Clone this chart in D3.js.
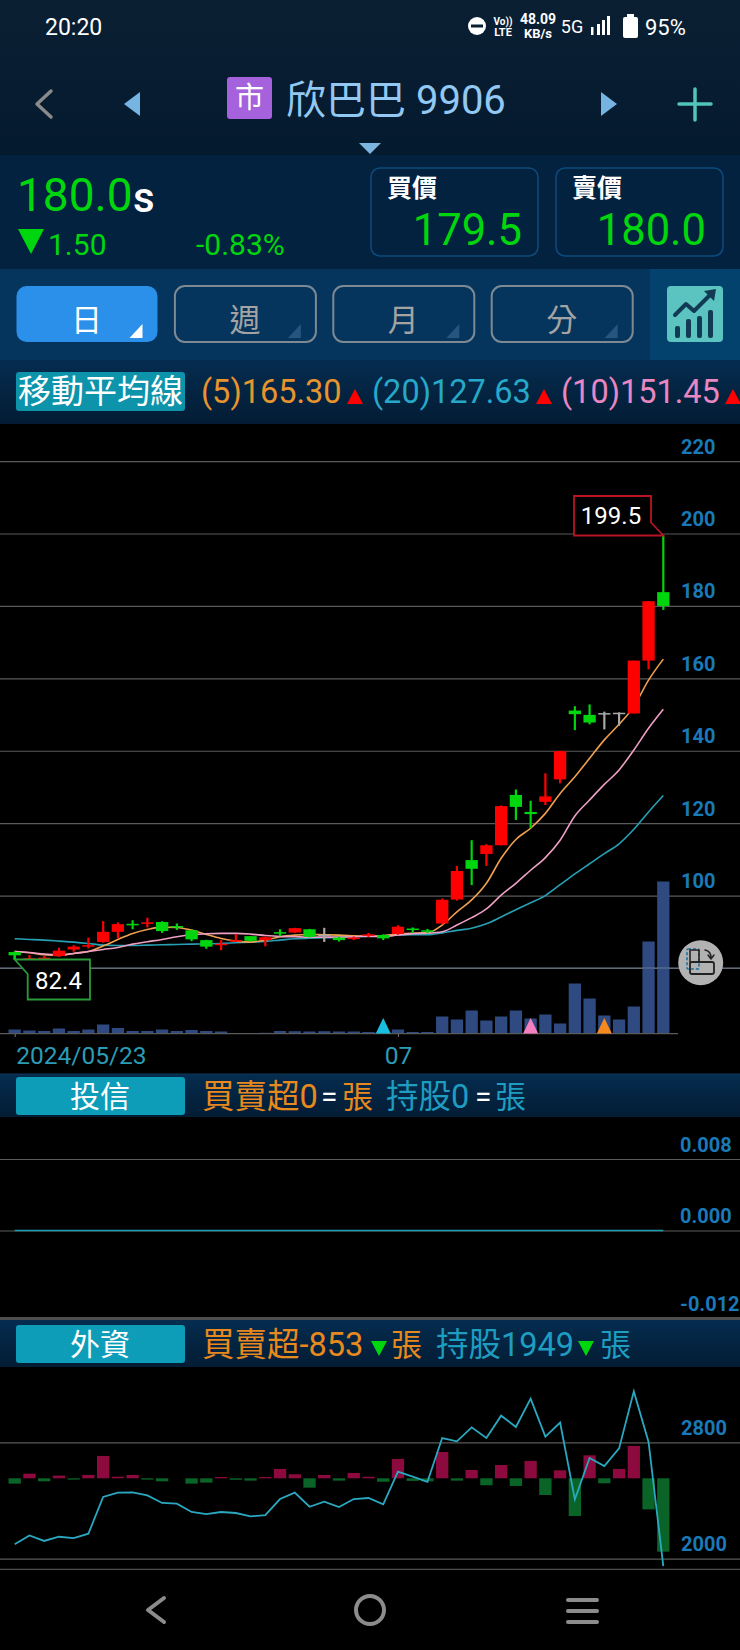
<!DOCTYPE html>
<html>
<head>
  <meta charset="UTF-8">
  <style>
    html, body { margin: 0; padding: 0; background: black; }
    svg { display: block; font-family: Roboto, "Noto Sans CJK TC", sans-serif; }
    .axis path { display: none; }
    .grid line { stroke: #5a5a5a; stroke-width: 1.2; }
    .grid text { display: none; }
    .yLabel line { display: none; }
    .yLabel text { fill: #1a79b8; font-size: 20px; font-weight: 700; font-family: Roboto, sans-serif; }
  </style>
</head>
<body>
<svg></svg>
<script src="https://d3js.org/d3.v7.min.js"></script>
<script>

// candles, oldest first
let opens  = [84.4,82.5,82.4,83.3,85.1,85.9,87.2,90.0,92.2,92.2,92.7,91.6,90.4,87.7,86.5,87.4,88.8,87.7,89.9,89.8,90.7,89.2,88.4,88.1,88.9,89.1,89.4,90.9,90.4,92.3,98.9,109.8,111.5,113.9,127.8,123.1,125.9,132.1,151.1,149.9,150.4,150.5,150.3,164.9,183.8];
let highs  = [84.6,83.6,83.3,85.6,86.3,88.4,92.95,92.6,93.2,93.9,92.9,92.3,90.6,87.8,87.7,89.4,88.8,88.7,90.7,91.1,90.8,91.1,88.6,88.7,89.7,89.3,91.8,91.2,90.8,99.2,108.2,115.3,114.2,124.9,129.3,126.2,133.75,140.0,152.3,152.8,150.8,150.6,164.9,181.3,199.5];
let lows   = [82.4,82.4,82.2,83.1,84.5,85.4,87.0,88.2,90.7,91.2,89.7,90.5,87.4,85.3,84.9,87.2,87.3,86.0,88.8,89.7,88.4,87.2,87.3,87.7,88.6,87.7,89.2,89.7,89.6,92.0,98.6,102.9,108.2,113.9,120.9,118.6,125.0,131.0,145.7,147.3,145.9,146.9,150.3,162.5,178.9];
let closes = [83.5,82.7,82.85,84.8,85.9,86.3,90.0,92.1,91.85,92.6,90.2,91.2,87.9,85.9,86.7,87.7,87.5,88.5,89.5,91.0,88.6,89.2,87.7,88.4,89.3,88.2,91.4,90.6,90.1,98.85,106.8,107.4,113.9,124.7,124.5,122.5,127.4,139.9,150.1,147.8,150.4,150.5,164.9,181.3,180.0];

// moving averages
let ma5  = [84.57,84.2,83.65,83.47,84.02,84.57,86.05,87.89,89.55,90.65,91.3,91.2,90.47,89.27,88.17,87.43,87.15,87.7,88.63,89.09,89.27,89.18,89.09,88.9,88.72,88.9,89.4,89.6,89.7,91.85,95.5,98.8,103.4,110.3,115.5,118.6,122.7,128.2,132.8,137.9,143.0,147.3,152.2,159.5,165.3];
let ma10 = [84.57,84.3,83.84,83.65,84.02,84.57,85.13,85.68,86.6,87.25,87.89,88.63,89.18,89.46,89.55,89.55,89.36,88.99,88.72,88.63,88.53,88.53,88.53,88.63,88.81,88.6,89.1,89.5,89.6,90.0,91.85,93.9,96.3,100.1,103.4,107.0,110.5,115.3,122.0,126.4,130.7,134.7,140.2,146.2,151.45];
let ma20 = [88.07,87.89,87.7,87.43,87.15,86.78,86.32,86.23,86.23,86.32,86.42,86.51,86.6,86.69,86.78,86.97,87.15,87.34,87.7,88.07,88.26,88.35,88.44,88.63,88.81,88.9,89.1,89.2,89.2,89.7,90.4,91.0,92.2,94.1,96.1,98.0,100.0,103.0,106.0,108.8,111.6,114.3,118.3,123.1,127.63];

// volume, 張 (estimated)
let volumes = [80,60,50,100,50,80,180,110,50,50,80,50,70,50,40,10,6,14,50,46,40,46,40,40,30,16,80,30,30,340,280,460,260,340,460,300,380,200,1000,700,360,280,540,1840,3040];

let priceTicks = [220,200,180,160,140,120,100,80];

// 投信 panel
let trustTicks = [0.008,0.000,-0.012];
let trustHold = [0,0,0,0,0,0,0,0,0,0,0,0,0,0,0,0,0,0,0,0,0,0,0,0,0,0,0,0,0,0,0,0,0,0,0,0,0,0,0,0,0,0,0,0,0];

// 外資 panel
let foreignTicks = [2800,2000];
let foreignNet = [-62,54,-35,31,-15,39,260,19,39,-15,-35,0,-62,-50,15,-17,-27,15,109,47,-109,39,-27,62,18,-40,225,-30,-35,306,-27,97,-81,155,-89,202,-194,93,-438,267,-58,109,376,-361,-853];
let foreignHold = [2099,2160,2122,2151,2142,2172,2424,2454,2456,2435,2383,2378,2321,2307,2321,2314,2291,2300,2410,2454,2357,2392,2355,2410,2417,2374,2598,2564,2529,2829,2807,2903,2829,2983,2905,3100,2839,2935,2408,2692,2637,2758,3150,2802,1949];

let dateTicks = [0,26];
let dateLabels = ["2024/05/23","07"];
let signals = [[25,"#19bfe0"],[35,"#f57fc0"],[40,"#f78a1e"]];
let tabs = ["日","週","月","分"];

let width = 740, height = 1650;
let red = "#ff0000", green = "#00d60e", gray = "#a8a8a8";

let svg = d3.select("svg").attr("width", width).attr("height", height);

let indexes = d3.range(closes.length);
let x = d3.scaleLinear().domain([0, 44]).range([14.7, 663.3]);
let barW = 12.3;

// little helpers for the app chrome
function label(str, px, py, size, fill, anchor, weight) {
  return svg.append("text").attr("x", px).attr("y", py).attr("dy", "0.35em")
    .attr("font-size", size).attr("fill", fill)
    .attr("text-anchor", anchor || "start").attr("font-weight", weight || 400).text(str);
}
function box(px, py, w, h, fill, r, stroke) {
  return svg.append("rect").attr("x", px).attr("y", py).attr("width", w).attr("height", h)
    .attr("fill", fill).attr("rx", r || 0).attr("stroke", stroke || "none");
}
function poly(pts, fill) {
  return svg.append("polygon").attr("points", pts.join(" ")).attr("fill", fill);
}
function stroke(d, color, w) {
  return svg.append("path").attr("d", d).attr("fill", "none").attr("stroke", color)
    .attr("stroke-width", w).attr("stroke-linecap", "round").attr("stroke-linejoin", "round");
}

// backgrounds
let defs = svg.append("defs");
let grad = defs.append("linearGradient").attr("id", "topBg").attr("x1", 0).attr("y1", 0).attr("x2", 0).attr("y2", 1);
grad.append("stop").attr("offset", "0%").attr("stop-color", "#0b1f33");
grad.append("stop").attr("offset", "100%").attr("stop-color", "#041a2e");
let maGrad = defs.append("linearGradient").attr("id", "rowBg").attr("x1", 0).attr("y1", 0).attr("x2", 0).attr("y2", 1);
maGrad.append("stop").attr("offset", "0%").attr("stop-color", "#052c4f");
maGrad.append("stop").attr("offset", "100%").attr("stop-color", "#031c34");

box(0, 0, width, height, "black");
box(0, 0, width, 156, "url(#topBg)");
box(0, 155, width, 114, "#03223f");
box(0, 269, width, 91, "#05345c");
box(0, 360, width, 64, "url(#rowBg)");
box(650, 269, 90, 91, "#04426e");

// status bar
label("20:20", 45, 27, 23, "white");
svg.append("circle").attr("cx", 477).attr("cy", 26).attr("r", 9).attr("fill", "white");
box(471, 24.5, 12, 3, "#0b1f33");
label("Vo))", 503, 21, 10, "white", "middle", 700);
label("LTE", 503, 32, 11, "white", "middle", 700);
label("48.09", 538, 19, 14, "white", "middle", 700);
label("KB/s", 538, 33, 13, "white", "middle", 700);
label("5G", 572, 27, 18, "white", "middle");
box(591, 27, 2.5, 8, "white");
box(597, 24, 3, 11, "white");
box(602, 20, 3, 15, "white");
box(607, 16, 3, 19, "white");
box(623, 17, 15, 21, "white", 2);
box(627, 14, 7, 4, "white");
label("95%", 645, 27, 22, "white");

// title row
stroke("M51 91 L37 104 L51 117", "#8a8a8a", 3.5);
poly([[140,92],[124,104],[140,116]], "#76b4e2");
box(227, 77, 45, 42, "#a562dc", 3);
label("市", 249.5, 98, 29, "white", "middle");
label("欣巴巴 9906", 286, 100, 40, "#92c8f2");
poly([[601,92],[617,104],[601,116]], "#76b4e2");
stroke("M695 89 V120 M679 104 H711", "#52c4b8", 3.5);
poly([[359,143],[381,143],[370,154]], "#7cb6e0");

// quote
label("180.0", 17, 195, 46, green);
label("s", 133, 197, 42, "white", "start", 500);
poly([[18,229],[44,229],[31,254]], green);
label("1.50", 48, 244, 30, green);
label("-0.83%", 196, 244, 30, green);
box(371, 168, 167, 88, "none", 9, "#0d4b7c").attr("stroke-width", 1.5);
box(556, 168, 167, 88, "none", 9, "#0d4b7c").attr("stroke-width", 1.5);
label("買價", 387, 188, 25, "white", "start", 700);
label("賣價", 572, 188, 25, "white", "start", 700);
label("179.5", 522, 230, 43.5, green, "end");
label("180.0", 706, 230, 43.5, green, "end");

// period tabs
tabs.forEach((t, i) => {
  let left = 16.5 + i * 158.4;
  box(left, 286, 141, 56, i == 0 ? "#2a90ea" : "none", 10, i == 0 ? "none" : "#7d8a94").attr("stroke-width", 2);
  label(t, left + 70, 320, 31, i == 0 ? "white" : "#a3a3a3", "middle");
  let c = i == 0 ? "white" : "#26557f";
  poly([[left + 126, 324],[left + 126, 338],[left + 113, 338]], c);
});
box(667, 286, 56, 56, "#5bc3c0", 4);
stroke("M675 315 L686 304 L694 311 L712 293", "#123a55", 4);
poly([[704,291],[716,289],[714,301]], "#123a55");
[[677,12],[688,19],[699,22],[710,28]].forEach(d => box(d[0] - 2, 337 - d[1] + 1, 5, d[1], "#123a55", 2));

// MA legend row
box(16, 372, 169, 39, "#0d93aa", 3);
label("移動平均線", 100.5, 391, 33, "white", "middle");
label("(5)165.30", 201, 392, 32.5, "#e8942e");
poly([[347,404],[363,404],[355,389]], red);
label("(20)127.63", 372, 392, 32.5, "#27a8c8");
poly([[536,404],[552,404],[544,389]], red);
label("(10)151.45", 561, 392, 32.5, "#e887c2");
poly([[725,404],[741,404],[733,389]], red);

// price panel
let y = d3.scaleLinear().domain([80, 200]).range([968, 533.5]);

svg.append("g").attr("class", "axis grid")
  .call(d3.axisRight(y).tickValues(priceTicks).tickSize(width).tickFormat(""));

let vol = d3.scaleLinear().domain([0, 3040]).range([1033.5, 881.5]);
svg.append("g").selectAll("rect").data(indexes).enter().append("rect")
  .attr("x", i => x(i) - barW / 2)
  .attr("width", barW)
  .attr("y", i => vol(volumes[i]))
  .attr("height", i => vol(0) - vol(volumes[i]))
  .attr("fill", "#2e4a80");

// grid on top of the volume bars, only faint
svg.append("line").attr("x1", 0).attr("x2", width).attr("y1", y(80)).attr("y2", y(80))
  .attr("stroke", "#6c7890").attr("stroke-width", 1.2);

svg.append("g").attr("class", "axis yLabel")
  .attr("transform", "translate(681,0)")
  .call(d3.axisRight(y).tickValues(priceTicks.filter(d => d > 80)).tickSize(0).tickPadding(0))
  .selectAll("text").attr("dy", "-0.4em");

// baseline and dates
svg.append("line").attr("x1", 0).attr("x2", 678).attr("y1", 1033.7).attr("y2", 1033.7)
  .attr("stroke", "#5a5a5a").attr("stroke-width", 1.2);

let dateAxis = svg.append("g").attr("class", "axis").attr("transform", "translate(0,1034)")
  .call(d3.axisBottom(x).tickValues(dateTicks).tickSize(3).tickPadding(10)
    .tickFormat((d, i) => dateLabels[i]));
dateAxis.selectAll("line").attr("stroke", "#777");
dateAxis.selectAll("text")
  .attr("fill", "#2b9cb6").attr("font-size", 24.5)
  .attr("font-family", "Roboto, sans-serif")
  .attr("text-anchor", (d, i) => i == 0 ? "start" : "middle")
  .attr("x", (d, i) => i == 0 ? 1 : 0);

// moving average lines go under the candles of the same colour range
let maLine = d3.line().x((d, i) => x(i)).y(d => y(d)).curve(d3.curveMonotoneX);
[[ma20, "#27a0b4"], [ma5, "#f0a050"], [ma10, "#eda0c4"]].forEach(m => {
  svg.append("path").attr("d", maLine(m[0])).attr("fill", "none")
    .attr("stroke", m[1]).attr("stroke-width", 1.6);
});

let candleColor = i => closes[i] > opens[i] ? red : closes[i] < opens[i] ? green : gray;

let candle = svg.append("g").selectAll("g").data(indexes).enter().append("g");
candle.append("line")
  .attr("x1", i => x(i)).attr("x2", i => x(i))
  .attr("y1", i => y(highs[i])).attr("y2", i => y(lows[i]))
  .attr("stroke", i => (i == 21 || i == 40 || i == 41) ? gray : candleColor(i))
  .attr("stroke-width", 2.2);
candle.append("rect")
  .attr("x", i => x(i) - barW / 2)
  .attr("width", barW)
  .attr("y", i => y(Math.max(opens[i], closes[i])))
  .attr("height", i => Math.max(1.5, Math.abs(y(opens[i]) - y(closes[i]))))
  .attr("fill", i => (i == 21 || i == 40 || i == 41) ? gray : candleColor(i));

// signal triangles on the volume base
signals.forEach(s => {
  let px = x(s[0]);
  poly([[px - 7.5, 1033.5],[px + 7.5, 1033.5],[px, 1018]], s[1]);
});

// high and low callouts
svg.append("polygon")
  .attr("points", [[574,496],[651,496],[651,522.5],[x(44),535.5],[574,535.5]].join(" "))
  .attr("fill", "black").attr("stroke", "#b81422").attr("stroke-width", 1.8);
label("199.5", 611, 516, 24, "white", "middle");
svg.append("polygon")
  .attr("points", [[x(0),959.5],[90,959.5],[90,999.5],[27.7,999.5],[27.7,974]].join(" "))
  .attr("fill", "black").attr("stroke", "#2a9c3a").attr("stroke-width", 1.8);
// redraw the low candle's wick over the callout edge
svg.append("line").attr("x1", x(0)).attr("x2", x(0)).attr("y1", y(83.5)).attr("y2", y(lows[0]))
  .attr("stroke", green).attr("stroke-width", 2.2);
label("82.4", 58.5, 981, 24, "white", "middle");

// floating rotate button
svg.append("circle").attr("cx", 700.7).attr("cy", 962.7).attr("r", 22.5).attr("fill", "#b2b2b2");
box(687, 949, 12, 20, "none", 1, "#1c6f9c").attr("stroke-dasharray", "3 2").attr("stroke-width", 1.6);
box(690, 962, 24, 12, "none", 2, "#222").attr("stroke-width", 1.8);
stroke("M690 962 V950 H699 V962", "#222", 1.6);
stroke("M705 950 Q711 951 711 958 M708 955 L711 959 L714 955", "#222", 1.5);

// 投信 row
box(0, 1074, width, 43, "url(#rowBg)");
svg.append("line").attr("x1", 0).attr("x2", width).attr("y1", 1074).attr("y2", 1074).attr("stroke", "#0d3a5c");
box(16, 1077, 169, 38, "#0d9db8", 3);
label("投信", 100, 1096, 30, "white", "middle");
label("買賣超0", 202, 1097, 32.5, "#e8891e");
label("=", 321, 1096, 30, "white");
label("張", 342, 1097, 31, "#e8891e");
label("持股0", 386, 1097, 32.5, "#1e9dc0");
label("=", 475, 1096, 30, "white");
label("張", 495, 1097, 31, "#1e9dc0");

// 投信 panel: nothing held, flat line on zero
let yTrust = d3.scaleLinear().domain([0, 0.008]).range([1230.5, 1159]);
svg.append("g").attr("class", "axis grid")
  .call(d3.axisRight(yTrust).tickValues(trustTicks.slice(0, 2)).tickSize(width).tickFormat(""));
svg.append("path")
  .attr("d", d3.line().x((d, i) => x(i)).y(d => yTrust(d))(trustHold))
  .attr("fill", "none").attr("stroke", "#1f9cb0").attr("stroke-width", 1.6);
svg.append("g").attr("class", "axis yLabel")
  .attr("transform", "translate(680,0)")
  .call(d3.axisRight(d3.scaleOrdinal().domain(trustTicks).range([1159, 1230.5, 1318]))
    .tickValues(trustTicks).tickSize(0).tickPadding(0).tickFormat(d => d.toFixed(3)))
  .selectAll("text").attr("dy", "-0.4em").attr("font-size", 19);
box(0, 1317, width, 3, "#4e4e4e");

// 外資 row
box(0, 1320, width, 47, "url(#rowBg)");
box(16, 1325, 169, 38, "#0d9db8", 3);
label("外資", 100, 1344, 30, "white", "middle");
label("買賣超-853", 202, 1345, 32.5, "#e8891e");
poly([[371,1341],[387,1341],[379,1356]], green);
label("張", 391, 1345, 31, "#e8891e");
label("持股1949", 436, 1345, 32.5, "#1e9dc0");
poly([[578,1341],[594,1341],[586,1356]], green);
label("張", 600, 1345, 31, "#1e9dc0");

// 外資 panel
let yHold = d3.scaleLinear().domain([2000, 2800]).range([1558.7, 1442.3]);
let yNet = d3.scaleLinear().domain([-853, 0]).range([1551.7, 1478.3]);

svg.append("g").attr("class", "axis grid")
  .call(d3.axisRight(yHold).tickValues(foreignTicks).tickSize(width).tickFormat(""));
svg.append("line").attr("x1", 0).attr("x2", width).attr("y1", 1569.3).attr("y2", 1569.3)
  .attr("stroke", "#4e4e4e").attr("stroke-width", 1.2);

svg.append("g").selectAll("rect").data(indexes.filter(i => foreignNet[i] != 0)).enter().append("rect")
  .attr("x", i => x(i) - barW / 2)
  .attr("width", barW)
  .attr("y", i => foreignNet[i] > 0 ? yNet(foreignNet[i]) : yNet(0))
  .attr("height", i => Math.abs(yNet(foreignNet[i]) - yNet(0)))
  .attr("fill", i => foreignNet[i] > 0 ? "#8c0a3e" : "#0a6428");

svg.append("path")
  .attr("d", d3.line().x((d, i) => x(i)).y(d => yHold(d))(foreignHold))
  .attr("fill", "none").attr("stroke", "#2aa8c0").attr("stroke-width", 1.8);

svg.append("g").attr("class", "axis yLabel")
  .attr("transform", "translate(681,0)")
  .call(d3.axisRight(yHold).tickValues(foreignTicks).tickSize(0).tickPadding(0).tickFormat(d3.format("d")))
  .selectAll("text").attr("dy", "-0.4em");

// android nav bar
stroke("M164 1598 L148 1610 L164 1622", "#8c8c8c", 4);
svg.append("circle").attr("cx", 370).attr("cy", 1610).attr("r", 14).attr("fill", "none")
  .attr("stroke", "#8c8c8c").attr("stroke-width", 4);
stroke("M568 1600 H597 M568 1611 H597 M568 1622 H597", "#8c8c8c", 4);

</script>
</body>
</html>
